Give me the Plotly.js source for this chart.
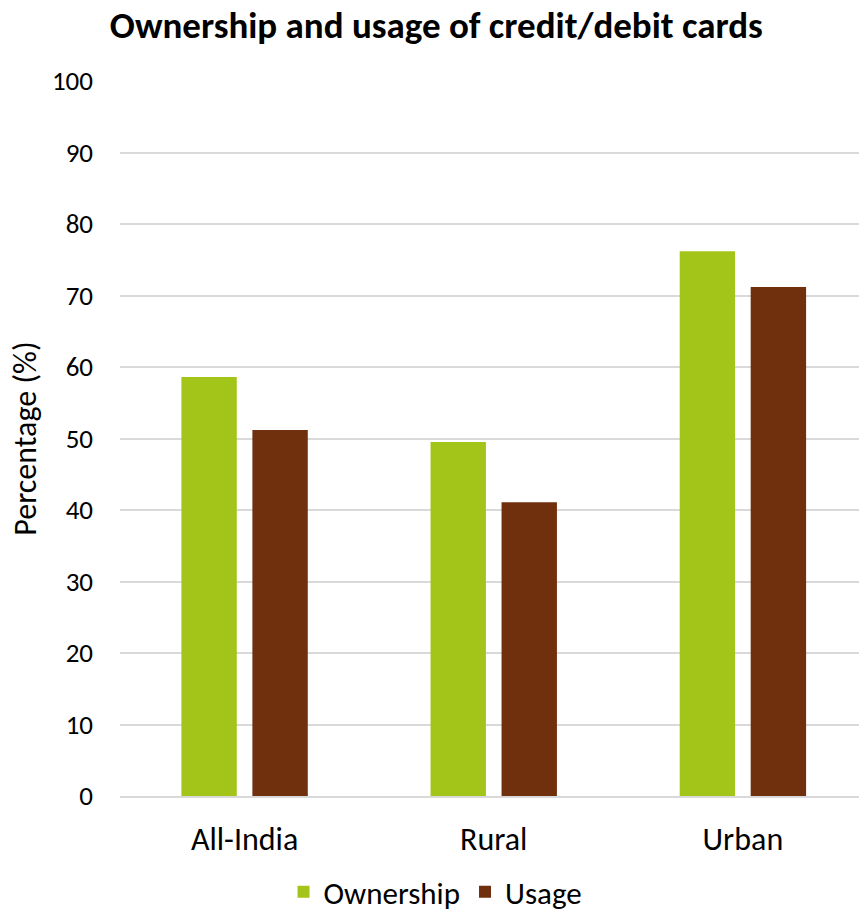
<!DOCTYPE html>
<html>
<head>
<meta charset="utf-8">
<script src="https://cdn.plot.ly/plotly-3.0.1.min.js"></script>
<style>
  html, body { margin: 0; padding: 0; background: #fff; }
  #chart { width: 859px; height: 913px; }
</style>
</head>
<body>
<div id="chart"></div>
<script>
// Share of households owning and using credit/debit cards
const categories = ['All-India', 'Rural', 'Urban'];
const ownership = [58.6, 49.5, 76.2];
const usage = [51.2, 41.1, 71.2];
const yTicks = [0, 10, 20, 30, 40, 50, 60, 70, 80, 90, 100];

const FONT = 'Carlito, Calibri, Lato, sans-serif';

const traces = [
  {
    type: 'bar', name: 'Ownership', x: categories, y: ownership,
    marker: { color: '#a3c51a' }, hoverinfo: 'x+y+name'
  },
  {
    type: 'bar', name: 'Usage', x: categories, y: usage,
    marker: { color: '#70300e' }, hoverinfo: 'x+y+name'
  }
];

const layout = {
  width: 859, height: 913,
  margin: { l: 119.5, r: 0, t: 81, b: 117 },
  paper_bgcolor: '#ffffff', plot_bgcolor: '#ffffff',
  font: { family: FONT, color: '#000000', size: 24 },
  title: {
    text: '<b>Ownership and usage of credit/debit cards</b>',
    font: { family: FONT, size: 37, color: '#000000' },
    xref: 'container', x: 0.508, xanchor: 'center',
    yref: 'container', y: 1 - 25 / 913, yanchor: 'middle'
  },
  barmode: 'group',
  bargap: 0.43,
  bargroupgap: 0.22,
  showlegend: true,
  legend: {
    orientation: 'h', xref: 'container', x: 0.507, xanchor: 'center',
    yref: 'container', y: 1 - 892 / 913, yanchor: 'middle',
    font: { family: FONT, size: 31, color: '#000000' },
    itemwidth: 30, tracegroupgap: 0
  },
  xaxis: {
    type: 'category',
    range: [-0.5, 2.466],
    showgrid: false, zeroline: false,
    showline: true, linecolor: '#d9d9d9', linewidth: 2,
    ticks: '', ticklabelstandoff: 14,
    tickfont: { family: FONT, size: 32, color: '#000000' },
    automargin: false
  },
  yaxis: {
    range: [0, 100],
    tickvals: yTicks,
    ticktext: yTicks.map(String),
    showgrid: true, gridcolor: '#d9d9d9', gridwidth: 2,
    zeroline: false, showline: false,
    ticks: '', ticklabelstandoff: 26,
    tickfont: { family: FONT, size: 27, color: '#000000' },
    title: { text: 'Percentage (%)', font: { family: FONT, size: 32, color: '#000000' }, standoff: 5 },
    automargin: false
  }
};

Plotly.newPlot('chart', traces, layout, { displayModeBar: false, staticPlot: true });
</script>
</body>
</html>
